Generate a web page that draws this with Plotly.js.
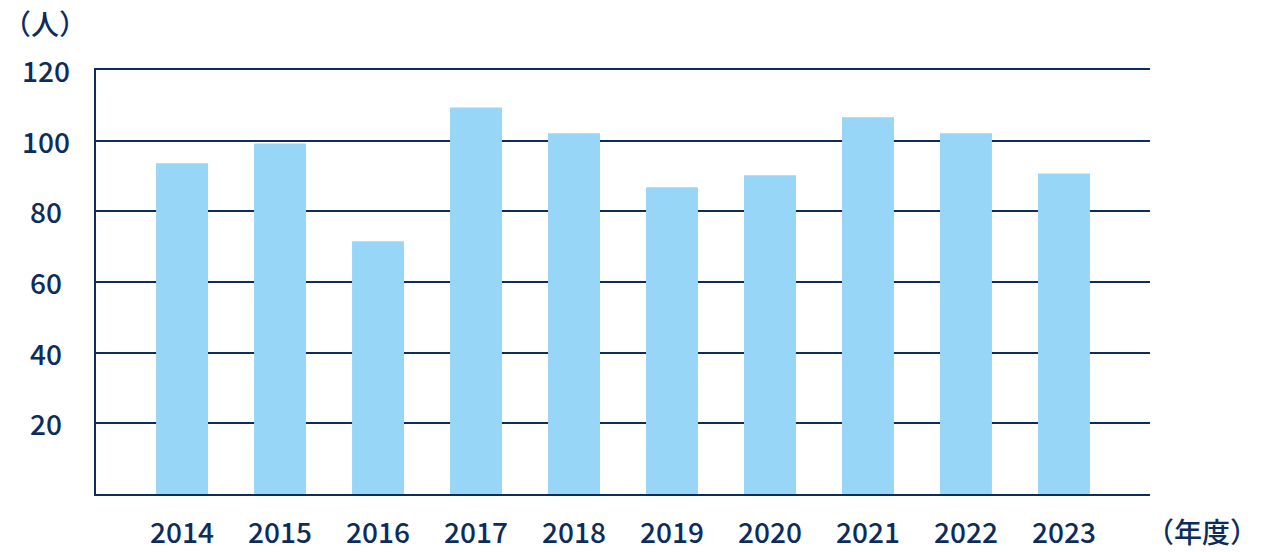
<!DOCTYPE html>
<html>
<head>
<meta charset="utf-8">
<script src="https://cdn.plot.ly/plotly-3.0.1.min.js"></script>
<style>html,body{margin:0;padding:0;background:#fff;}#chart{width:1264px;height:552px;}</style>
</head>
<body>
<div id="chart"></div>
<script>
const years = ['2014','2015','2016','2017','2018','2019','2020','2021','2022','2023'];
const people = [93.6, 99.2, 71.5, 109.4, 102.1, 86.8, 90.2, 106.6, 102.1, 90.7];
const yTicks = [20, 40, 60, 80, 100, 120];
const yUnit = '（人）';
const xUnit = '（年度）';

const navy = '#0c2d5c';
const font = 'Noto Sans CJK JP, Noto Sans, sans-serif';
const W = 1054, H = 424, BOTTOM = 494;
const tf = {family: font, size: 28, color: navy, weight: 500};

const annotations = yTicks.map(v => ({
  xref: 'paper', yref: 'y', x: -50/W, y: v, text: String(v),
  showarrow: false, xanchor: 'center', yanchor: 'middle',
  font: tf
}));
annotations.push({
  xref: 'paper', yref: 'paper', x: -51/W, y: (BOTTOM - 23)/H, text: yUnit,
  showarrow: false, xanchor: 'center', yanchor: 'middle',
  font: tf
});
annotations.push({
  xref: 'paper', yref: 'paper', x: 1 + 52/W, y: (BOTTOM - 531)/H, text: xUnit,
  showarrow: false, xanchor: 'center', yanchor: 'middle',
  font: tf
});

Plotly.newPlot('chart', [{
  type: 'bar', x: years, y: people,
  marker: {color: '#97d6f7', line: {width: 0}},
  hoverinfo: 'x+y'
}], {
  width: 1264, height: 552,
  margin: {l: 96, r: 114, t: 70, b: 58, pad: 0},
  paper_bgcolor: '#fff', plot_bgcolor: '#fff',
  bargap: 0.47,
  showlegend: false,
  xaxis: {
    type: 'category', range: [-0.878, 9.878],
    showline: true, mirror: true, linecolor: navy, linewidth: 2,
    showgrid: false, zeroline: false, ticks: '',
    ticklabelstandoff: 13,
    tickfont: tf
  },
  yaxis: {
    range: [0, 120], tickvals: yTicks, showticklabels: false,
    showline: true, linecolor: navy, linewidth: 2,
    showgrid: true, gridcolor: navy, gridwidth: 2,
    zeroline: false, ticks: ''
  },
  annotations: annotations
}, {displayModeBar: false, staticPlot: true});
</script>
</body>
</html>
